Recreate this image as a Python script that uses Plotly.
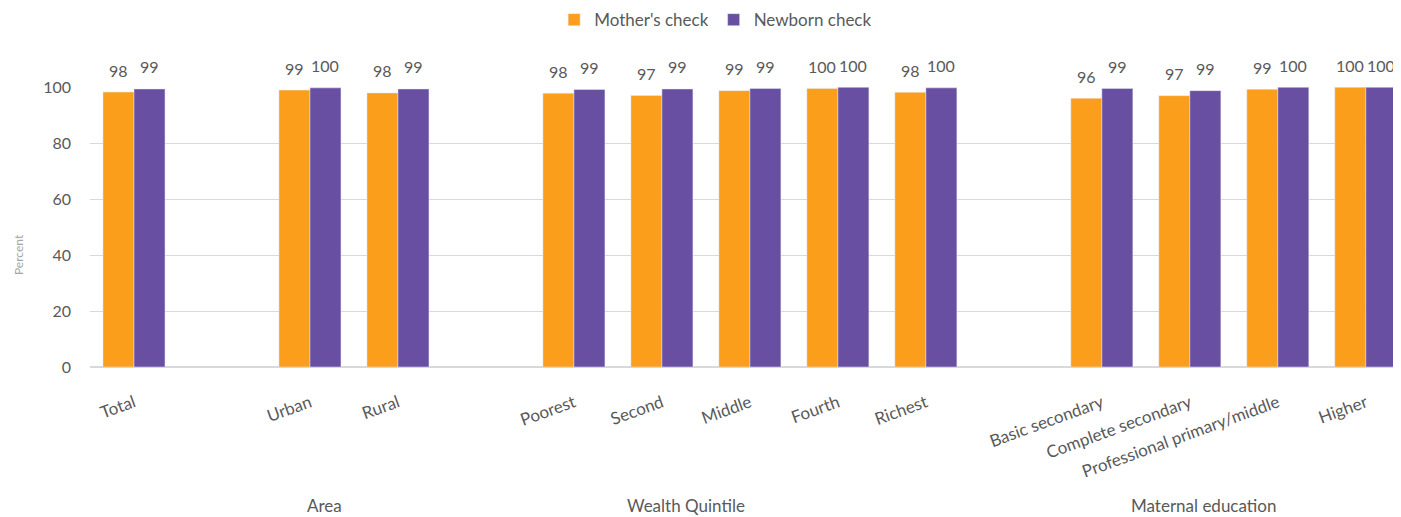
import plotly.graph_objects as go

categories = ["Total", "gap1", "Urban", "Rural", "gap2", "Poorest", "Second", "Middle",
              "Fourth", "Richest", "gap3", "Basic secondary", "Complete secondary",
              "Professional primary/middle", "Higher"]
tick_labels = ["Total", "", "Urban", "Rural", "", "Poorest", "Second", "Middle",
               "Fourth", "Richest", "", "Basic secondary", "Complete secondary",
               "Professional primary/middle", "Higher"]
mother = [98.2, None, 98.9, 97.9, None, 97.8, 97.0, 98.7, 99.5, 98.1, None, 96.0, 96.9, 99.2, 99.9]
mother_lbl = ["98", "", "99", "98", "", "98", "97", "99", "100", "98", "", "96", "97", "99", "100"]
newborn = [99.3, None, 99.7, 99.3, None, 99.1, 99.3, 99.5, 99.9, 99.7, None, 99.5, 98.7, 99.9, 99.9]
newborn_lbl = ["99", "", "100", "99", "", "99", "99", "99", "100", "100", "", "99", "99", "100", "100"]
groups = ["Area", "Wealth Quintile", "Maternal education"]
group_pos = [2.16, 6.27, 12.16]

FONT = "Lato"
GRAY = "#595959"
BARGAP = 0.295
SLOT_PX = 88  # approx pixel width of one category slot
HALF = SLOT_PX * (1 - BARGAP) / 4

fig = go.Figure()
fig.add_trace(go.Bar(x=categories, y=mother, name="Mother's check", marker_color="#FB9E1B"))
fig.add_trace(go.Bar(x=categories, y=newborn, name="Newborn check", marker_color="#684FA1"))

# value labels above each bar
for vals, lbls, sign in [(mother, mother_lbl, -1), (newborn, newborn_lbl, 1)]:
    for c, v, t in zip(categories, vals, lbls):
        if v is None:
            continue
        fig.add_annotation(x=c, y=v, xref="x", yref="y", text=t, showarrow=False,
                           xshift=sign * HALF, yshift=22, yanchor="middle",
                           font=dict(size=16, color=GRAY, family=FONT))

for g, p in zip(groups, group_pos):
    fig.add_annotation(x=p, y=0, xref="x", yref="paper", yshift=-151, text=g,
                       showarrow=False, font=dict(size=17, color=GRAY, family=FONT))

fig.add_annotation(x=-0.0549, y=0.4, xref="paper", yref="paper", text="Percent",
                   textangle=-90, showarrow=False, xanchor="center", yanchor="middle",
                   font=dict(size=12, color="#A6A6A6", family=FONT))

# page body has an 8px default margin, so the figure is sized to fit the window
fig.update_layout(
    width=1393, height=509,
    margin=dict(l=82, r=0, t=79, b=150, autoexpand=False),
    plot_bgcolor="white", paper_bgcolor="white",
    barmode="group", bargap=BARGAP, bargroupgap=0,
    font=dict(family=FONT, color=GRAY),
    legend=dict(orientation="h", x=0.508, xref="container", xanchor="center",
                y=1.239, yref="paper", yanchor="middle",
                font=dict(size=17, color=GRAY, family=FONT), itemwidth=30),
    xaxis=dict(type="category", tickmode="array", tickvals=categories, ticktext=tick_labels,
               tickangle=-20, range=[-0.5, 14.4], showgrid=False, ticks="", automargin=False,
               tickfont=dict(size=17, color=GRAY, family=FONT), ticklabelstandoff=22,
               showline=False),
    yaxis=dict(range=[0, 100], tickvals=[0, 20, 40, 60, 80, 100], showgrid=True,
               gridcolor="#D9D9D9", zeroline=True, zerolinecolor="#D9D9D9", zerolinewidth=1.5,
               tickfont=dict(size=16, color=GRAY, family=FONT), ticklabelstandoff=18,
               automargin=False),
)

fig.write_html("out.html")
